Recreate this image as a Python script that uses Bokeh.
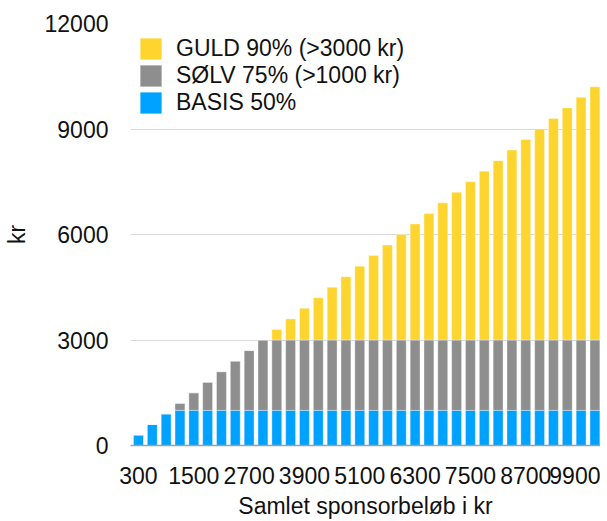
from bokeh.plotting import figure
from bokeh.models import Range1d, FixedTicker, Legend, LegendItem, ColumnDataSource
from bokeh.embed import file_html
from bokeh.resources import INLINE

amounts = [300, 600, 900, 1200, 1500, 1800, 2100, 2400, 2700, 3000,
           3300, 3600, 3900, 4200, 4500, 4800, 5100, 5400, 5700, 6000,
           6300, 6600, 6900, 7200, 7500, 7800, 8100, 8400, 8700, 9000,
           9300, 9600, 9900, 10200]
basis = [300, 600, 900] + [1000] * 31
solv = [0, 0, 0, 200, 500, 800, 1100, 1400, 1700, 2000] + [2000] * 24
guld = [0] * 10 + [300, 600, 900, 1200, 1500, 1800, 2100, 2400, 2700, 3000,
                   3300, 3600, 3900, 4200, 4500, 4800, 5100, 5400, 5700, 6000,
                   6300, 6600, 6900, 7200]
x_ticks = [300, 1500, 2700, 3900, 5100, 6300, 7500, 8700, 9900]
y_ticks = [0, 3000, 6000, 9000, 12000]
series = ["basis", "solv", "guld"]
labels = {"guld": "GULD 90% (>3000 kr)", "solv": "SØLV 75% (>1000 kr)", "basis": "BASIS 50%"}
colors = {"basis": "#00A2FF", "solv": "#8E8E8E", "guld": "#FED52E"}

FONT = "Liberation Sans"
FS = "23px"

src = ColumnDataSource(dict(x=amounts, basis=basis, solv=solv, guld=guld))

p = figure(width=600, height=521, output_backend="svg", toolbar_location=None,
           x_range=Range1d(127, 10321), y_range=Range1d(0, 12000),
           min_border_top=23, min_border_bottom=75, min_border_right=0, min_border_left=128)

renderers = p.vbar_stack(series, x="x", width=214, source=src,
                         color=[colors[s] for s in series], line_color="white", line_alpha=0.35,
                         line_width=1)
rmap = dict(zip(series, renderers))

legend = Legend(items=[LegendItem(label=labels[s], renderers=[rmap[s]]) for s in ["guld", "solv", "basis"]],
                location=(7, 329), glyph_width=27, glyph_height=27, label_standoff=12,
                spacing=0, padding=0, margin=0, border_line_alpha=0, background_fill_alpha=0,
                label_text_font=FONT, label_text_font_size=FS, label_text_color="#111111")
p.add_layout(legend, "center")

p.outline_line_color = None
p.xgrid.grid_line_color = None
p.ygrid.grid_line_color = "#D9D9D9"
p.ygrid.grid_line_width = 1

p.xaxis.ticker = FixedTicker(ticks=x_ticks)
p.yaxis.ticker = FixedTicker(ticks=y_ticks)
for ax in [p.xaxis[0], p.yaxis[0]]:
    ax.major_tick_line_color = None
    ax.minor_tick_line_color = None
    ax.major_label_text_font = FONT
    ax.major_label_text_font_size = FS
    ax.major_label_text_color = "#111111"
    ax.axis_label_text_font = FONT
    ax.axis_label_text_font_size = FS
    ax.axis_label_text_font_style = "normal"
    ax.axis_label_text_color = "#111111"
p.xaxis.axis_line_color = "#A0A0A0"
p.xaxis.axis_line_width = 1.5
p.yaxis.axis_line_color = None
p.xaxis.axis_label = "Samlet sponsorbeløb i kr"
p.yaxis.axis_label = "kr"
p.xaxis.major_label_standoff = 15
p.yaxis.major_label_standoff = 16
p.xaxis.axis_label_standoff = 6
p.yaxis.axis_label_standoff = 12

open("out.html", "w").write(file_html(p, INLINE))
